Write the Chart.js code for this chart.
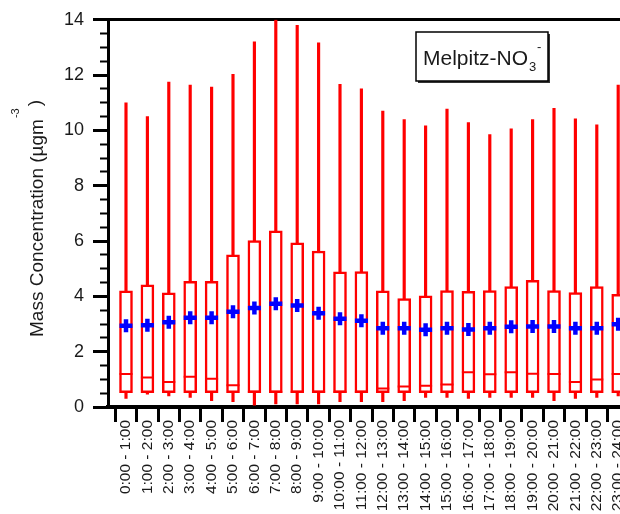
<!DOCTYPE html>
<html>
<head>
<meta charset="utf-8">
<script src="https://cdn.jsdelivr.net/npm/chart.js@4"></script>
<style>
html,body{margin:0;padding:0;overflow:hidden;background:#fff;}
#wrap{width:680px;height:514px;}
</style>
</head>
<body>
<div id="wrap"><canvas id="chart" width="680" height="514"></canvas></div>
<script>
const hours = ["0:00 - 1:00","1:00 - 2:00","2:00 - 3:00","3:00 - 4:00","4:00 - 5:00","5:00 - 6:00",
    "6:00 - 7:00","7:00 - 8:00","8:00 - 9:00","9:00 - 10:00","10:00 - 11:00","11:00 - 12:00",
    "12:00 - 13:00","13:00 - 14:00","14:00 - 15:00","15:00 - 16:00","16:00 - 17:00","17:00 - 18:00",
    "18:00 - 19:00","19:00 - 20:00","20:00 - 21:00","21:00 - 22:00","22:00 - 23:00","23:00 - 24:00"];
const whiskerHigh = [11.0,10.5,11.75,11.64,11.57,12.03,13.2,14.0,13.8,13.17,11.67,11.5,10.7,10.39,10.17,10.77,10.28,9.85,10.06,10.39,10.8,10.42,10.2,11.64];
const boxHigh = [4.2,4.42,4.13,4.54,4.54,5.5,6.02,6.37,5.94,5.64,4.89,4.9,4.2,3.92,4.02,4.21,4.18,4.21,4.35,4.58,4.21,4.14,4.35,4.07];
const boxLow = [0.52,0.52,0.52,0.52,0.52,0.52,0.52,0.52,0.52,0.52,0.52,0.52,0.52,0.52,0.52,0.52,0.52,0.52,0.52,0.52,0.52,0.52,0.52,0.52];
const medians = [1.19,1.07,0.9,1.09,1.02,0.79,0.55,0.55,0.55,0.55,0.55,0.55,0.67,0.74,0.77,0.81,1.26,1.18,1.26,1.2,1.19,0.9,0.99,1.19];
const whiskerLow = [0.31,0.46,0.4,0.35,0.23,0.19,0.07,0.11,0.11,0.11,0.19,0.19,0.19,0.23,0.35,0.35,0.31,0.35,0.35,0.35,0.23,0.31,0.35,0.4];
const means = [2.94,2.96,3.06,3.23,3.23,3.44,3.58,3.73,3.67,3.39,3.19,3.12,2.85,2.85,2.79,2.85,2.8,2.85,2.9,2.91,2.91,2.85,2.85,2.99];
const yTicks = [0,2,4,6,8,10,12,14];

const FONT = '"Liberation Sans", Arial, sans-serif';
const RED = '#ff0000';
const BLUE = '#0000ff';
const XMIN = -0.841, XMAX = 25;

// title with superscript + the label box
const extras = {
    id: 'extras',
    afterDraw(chart){
        const ctx = chart.ctx;
        ctx.save();
        ctx.fillStyle = '#1a1a1a';
        ctx.translate(43, 337);
        ctx.rotate(-Math.PI/2);
        ctx.textBaseline = 'alphabetic';
        ctx.textAlign = 'left';
        ctx.font = '19px ' + FONT;
        const main = 'Mass Concentration (\u00b5gm';
        ctx.fillText(main, 0, 0);
        let w = ctx.measureText(main).width;
        ctx.font = '11px ' + FONT;
        ctx.fillText('-3', w + 1, -24);
        w += ctx.measureText('-3').width + 3;
        ctx.font = '19px ' + FONT;
        ctx.fillText(')', w, -2);
        ctx.restore();

        ctx.save();
        ctx.fillStyle = '#333';
        ctx.fillRect(418, 34, 132, 49);
        ctx.fillStyle = '#fff';
        ctx.fillRect(416, 32, 132, 49);
        ctx.strokeStyle = '#000';
        ctx.lineWidth = 1.5;
        ctx.strokeRect(416, 32, 132, 49);
        ctx.fillStyle = '#1a1a1a';
        ctx.textBaseline = 'alphabetic';
        ctx.font = '21px ' + FONT;
        ctx.fillText('Melpitz-NO', 423, 65);
        const tw = ctx.measureText('Melpitz-NO').width;
        ctx.font = '13px ' + FONT;
        ctx.fillText('3', 423 + tw + 1, 71);
        ctx.fillText('-', 423 + tw + 9, 51);
        ctx.restore();
    }
};

new Chart(document.getElementById('chart').getContext('2d'), {
    type: 'bar',
    data: {
        datasets: [
            {
                type: 'scatter',
                data: means.map((v,i)=>({x:i, y:v})),
                pointStyle: 'cross',
                pointRadius: 6.5,
                borderWidth: 4.5,
                borderColor: BLUE,
                backgroundColor: BLUE,
                xAxisID: 'x', yAxisID: 'y',
                order: 0
            },
            {
                type: 'scatter',
                data: medians.map((v,i)=>({x:i, y:v})),
                pointStyle: 'line',
                pointRadius: 6.5,
                borderWidth: 2,
                borderColor: RED,
                xAxisID: 'x', yAxisID: 'y',
                order: 1
            },
            {
                data: boxLow.map((v,i)=>({x:i, y:[v, boxHigh[i]]})),
                backgroundColor: '#fff',
                borderColor: RED,
                borderWidth: 2.5,
                borderSkipped: false,
                barThickness: 13,
                grouped: false,
                xAxisID: 'x', yAxisID: 'y',
                order: 2
            },
            {
                data: whiskerLow.map((v,i)=>({x:i, y:[v, whiskerHigh[i]]})),
                backgroundColor: RED,
                borderWidth: 0,
                barThickness: 2.5,
                grouped: false,
                xAxisID: 'x', yAxisID: 'y',
                order: 3
            }
        ]
    },
    options: {
        responsive: false,
        animation: false,
        events: [],
        layout: { autoPadding: false, padding: { left: 0, top: 15, right: 19, bottom: 0 } },
        plugins: { legend: { display: false }, tooltip: { enabled: false } },
        scales: {
            x: {
                type: 'linear', position: 'bottom', min: XMIN, max: XMAX, weight: 10, offset: false,
                afterBuildTicks: (s)=>{ s.ticks = hours.map((h,i)=>({value:i})); },
                afterFit: (s)=>{ s.height = 107; },
                ticks: {
                    autoSkip: false, minRotation: 90, maxRotation: 90, padding: 13,
                    color: '#1a1a1a', font: { family: FONT, size: 15.5 },
                    callback: (v)=>hours[v]
                },
                grid: { drawOnChartArea: false, drawTicks: false, offset: false },
                border: { display: true, color: '#000', width: 4 }
            },
            xt: {
                type: 'linear', position: 'bottom', min: XMIN, max: XMAX, weight: 0, offset: false,
                afterBuildTicks: (s)=>{ s.ticks = hours.concat(['']).map((h,i)=>({value:i-0.5})); },
                afterFit: (s)=>{ s.height = 0; },
                ticks: { display: false },
                grid: { drawOnChartArea: false, tickLength: 15, tickWidth: 3, tickColor: '#000', offset: false },
                border: { display: false }
            },
            xtop: {
                type: 'linear', position: 'top', min: XMIN, max: XMAX, offset: false,
                afterFit: (s)=>{ s.height = 0; },
                ticks: { display: false },
                grid: { drawOnChartArea: false, drawTicks: false },
                border: { display: true, color: '#000', width: 3 }
            },
            y: {
                type: 'linear', position: 'left', min: 0, max: 14, weight: 10,
                afterBuildTicks: (s)=>{ s.ticks = yTicks.map(v=>({value:v})); },
                afterFit: (s)=>{ s.width = 108; },
                ticks: { padding: 9, color: '#1a1a1a', font: { family: FONT, size: 18 } },
                grid: { drawOnChartArea: false, tickLength: 15, tickWidth: 3, tickColor: '#000' },
                border: { display: true, color: '#000', width: 3 }
            },
            ym: {
                type: 'linear', position: 'left', min: 0, max: 14, weight: 0,
                afterFit: (s)=>{ s.width = 0; },
                ticks: { display: false, stepSize: 0.5 },
                grid: { drawOnChartArea: false, tickLength: 8, tickWidth: 2, tickColor: '#000' },
                border: { display: false }
            }
        }
    },
    plugins: [extras]
});
</script>
</body>
</html>
